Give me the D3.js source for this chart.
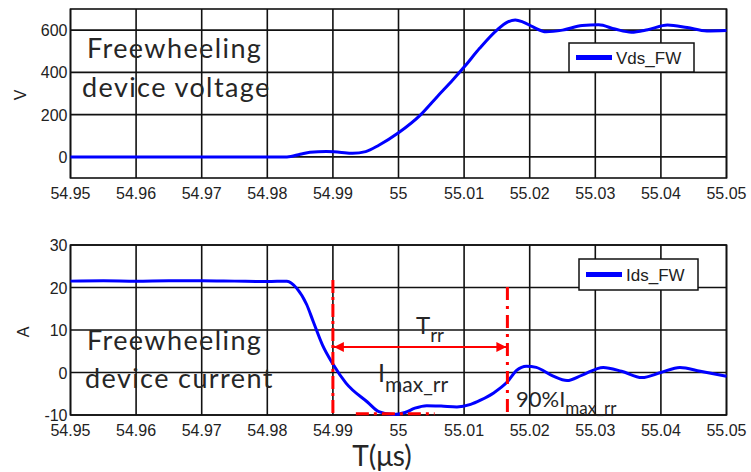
<!DOCTYPE html>
<html lang="en">
<head>
    <meta charset="utf-8">
    <title>Freewheeling device waveforms</title>
    <script src="https://cdn.jsdelivr.net/npm/d3@7"></script>
    <style>
        body { margin: 0; background: #fff; }
        .tick-lab { font-family: "Liberation Sans", Arial, sans-serif; font-size: 16px; fill: #222; }
        .note { font-family: Lato, "Open Sans", sans-serif; fill: #262626; }
    </style>
</head>
<body>
<script>
    // x axis (microseconds)
    var xTicks = [54.95, 54.96, 54.97, 54.98, 54.99, 55, 55.01, 55.02, 55.03, 55.04, 55.05];
    var xTickLabels = ["54.95", "54.96", "54.97", "54.98", "54.99", "55", "55.01", "55.02", "55.03", "55.04", "55.05"];

    // top panel: Vds_FW (V)
    var vTicks = [0, 200, 400, 600];
    var vTime = [54.95, 54.983, 54.985, 54.9865, 54.989, 54.991, 54.993, 54.995, 54.997, 55.0, 55.0034, 55.0059,
        55.0083, 55.01, 55.0124, 55.015, 55.0166, 55.0178, 55.019, 55.0205, 55.0225, 55.025, 55.028, 55.0305,
        55.033, 55.0355, 55.038, 55.041, 55.044, 55.047, 55.05];
    var vVals = [0, 0, 12, 22, 25, 22, 17, 25, 55, 114, 200, 285,
        365, 425, 515, 600, 638, 648, 638, 615, 592, 600, 622, 625,
        605, 590, 602, 624, 612, 596, 598];

    // bottom panel: Ids_FW (A)
    var iTicks = [-10, 0, 10, 20, 30];
    var iTime = [54.95, 54.955, 54.96, 54.965, 54.97, 54.975, 54.98, 54.983, 54.9845, 54.986, 54.987, 54.9884,
        54.99, 54.992, 54.9953, 54.997, 54.9992, 55.001, 55.0025, 55.0043, 55.0065, 55.0089, 55.011, 55.0125,
        55.0145, 55.0166, 55.018, 55.0195, 55.021, 55.0235, 55.0257, 55.028, 55.0312, 55.034, 55.0371, 55.040,
        55.0429, 55.046, 55.05];
    var iVals = [21.5, 21.6, 21.5, 21.6, 21.6, 21.5, 21.4, 21.5, 19.8, 16, 12, 6.5,
        2, -2.5, -7, -9.2, -9.9, -9.4, -8.4, -7.8, -7.9, -8.1, -7.5, -6.5,
        -4.8, -2.2, 0.5, 1.5, 1.2, -0.8, -1.9, -0.6, 1.2, 0.3, -1.2, 0,
        1.2, 0.3, -0.9];

    // reverse recovery markers
    var trrStart = 54.99, trrEnd = 55.0166;
    var imaxLevel = -9.7, imaxFrom = 54.9935, imaxTo = 55.0055;

    var w = 751, h = 472;
    var svg = d3.select("body").append("svg").attr("width", w).attr("height", h);

    var x = d3.scaleLinear().domain([54.95, 55.05]).range([70.5, 726.5]);
    var yV = d3.scaleLinear().domain([-100, 700]).range([178, 9]);
    var yI = d3.scaleLinear().domain([-10, 30]).range([415, 245]);

    function panel(y, yt, topVal, botVal) {
        var g = svg.append("g");
        // grid
        g.selectAll("line.vg").data(xTicks).enter().append("line")
            .attr("x1", d => x(d)).attr("x2", d => x(d))
            .attr("y1", y(topVal)).attr("y2", y(botVal))
            .attr("stroke", "#111").attr("stroke-width", 1.6);
        g.selectAll("line.hg").data(yt).enter().append("line")
            .attr("x1", x(54.95)).attr("x2", x(55.05))
            .attr("y1", d => y(d)).attr("y2", d => y(d))
            .attr("stroke", "#111").attr("stroke-width", 1.6);
        g.append("rect")
            .attr("x", x(54.95)).attr("y", y(topVal))
            .attr("width", x(55.05) - x(54.95)).attr("height", y(botVal) - y(topVal))
            .attr("fill", "none").attr("stroke", "#111").attr("stroke-width", 1.6);
        // x tick labels
        g.selectAll("text.xl").data(xTicks).enter().append("text")
            .attr("class", "tick-lab")
            .attr("x", d => x(d)).attr("y", y(botVal) + 21)
            .attr("text-anchor", "middle")
            .text((d, i) => xTickLabels[i]);
        // y tick labels
        g.selectAll("text.yl").data(yt).enter().append("text")
            .attr("class", "tick-lab")
            .attr("x", x(54.95) - 3).attr("y", d => y(d) + 6)
            .attr("text-anchor", "end")
            .text(d => d);
        return g;
    }

    panel(yV, vTicks, 700, -100);
    panel(yI, iTicks, 30, -10);

    var lineV = d3.line().x((d, i) => x(vTime[i])).y(d => yV(d)).curve(d3.curveMonotoneX);
    var lineI = d3.line().x((d, i) => x(iTime[i])).y(d => yI(d)).curve(d3.curveMonotoneX);

    svg.append("path").datum(vVals).attr("d", lineV)
        .attr("fill", "none").attr("stroke", "#0000ff").attr("stroke-width", 3);
    svg.append("path").datum(iVals).attr("d", lineI)
        .attr("fill", "none").attr("stroke", "#0000ff").attr("stroke-width", 3);

    // axis titles
    svg.append("text").attr("class", "tick-lab")
        .attr("transform", "translate(26," + 95 + ") rotate(-90)")
        .attr("text-anchor", "middle").text("V");
    svg.append("text").attr("class", "tick-lab")
        .attr("transform", "translate(29," + 332 + ") rotate(-90)")
        .attr("text-anchor", "middle").text("A");
    svg.append("text").attr("class", "note")
        .attr("x", 382).attr("y", 466).attr("text-anchor", "middle")
        .style("font-size", "28px").text("T(\u03bcs)");

    // legends
    function legend(x0, y0, bw, bh, label) {
        svg.append("rect").attr("x", x0).attr("y", y0).attr("width", bw).attr("height", bh)
            .attr("fill", "#fff").attr("stroke", "#111").attr("stroke-width", 1.5);
        svg.append("line").attr("x1", x0 + 7).attr("x2", x0 + 43)
            .attr("y1", y0 + bh / 2).attr("y2", y0 + bh / 2)
            .attr("stroke", "#0000ff").attr("stroke-width", 5);
        svg.append("text").attr("class", "tick-lab").style("font-size", "17px")
            .attr("x", x0 + 47).attr("y", y0 + bh / 2 + 6).text(label);
    }
    legend(569, 43, 125, 29, "Vds_FW");
    legend(579, 259, 119, 31, "Ids_FW");

    // panel notes
    function note(x0, y0, txt) {
        svg.append("text").attr("class", "note").attr("x", x0).attr("y", y0)
            .style("font-size", "27px").style("letter-spacing", "1.4px").text(txt);
    }
    note(87, 58, "Freewheeling");
    note(82, 97, "device voltage");
    note(87, 350, "Freewheeling");
    note(85, 388, "device current");

    // red Trr markers
    var red = "#ff0000";
    svg.append("line").attr("x1", x(trrStart)).attr("x2", x(trrStart))
        .attr("y1", 280).attr("y2", yI(-10))
        .attr("stroke", red).attr("stroke-width", 3).attr("stroke-dasharray", "13,4,3,4");
    svg.append("line").attr("x1", x(trrEnd)).attr("x2", x(trrEnd))
        .attr("y1", 287).attr("y2", yI(-10))
        .attr("stroke", red).attr("stroke-width", 3).attr("stroke-dasharray", "13,6,3,6");
    svg.append("line").attr("x1", x(imaxFrom)).attr("x2", x(imaxTo))
        .attr("y1", yI(imaxLevel)).attr("y2", yI(imaxLevel))
        .attr("stroke", red).attr("stroke-width", 3).attr("stroke-dasharray", "13,5,3,5");

    var defs = svg.append("defs");
    defs.append("marker").attr("id", "ah").attr("viewBox", "0 0 10 10")
        .attr("refX", 10).attr("refY", 5).attr("markerWidth", 6).attr("markerHeight", 5)
        .attr("orient", "auto-start-reverse").attr("markerUnits", "strokeWidth")
        .append("path").attr("d", "M0,0 L10,5 L0,10 z").attr("fill", red);
    svg.append("line").attr("x1", x(trrStart) + 1).attr("x2", x(trrEnd) - 1)
        .attr("y1", 347).attr("y2", 347)
        .attr("stroke", red).attr("stroke-width", 2)
        .attr("marker-start", "url(#ah)").attr("marker-end", "url(#ah)");

    // annotation labels
    var t1 = svg.append("text").attr("class", "note").attr("x", 416).attr("y", 334).style("font-size", "24px");
    t1.append("tspan").text("T");
    t1.append("tspan").attr("dy", 8).style("font-size", "19px").text("rr");

    var t2 = svg.append("text").attr("class", "note").attr("x", 378).attr("y", 382).style("font-size", "25px");
    t2.append("tspan").text("I");
    t2.append("tspan").attr("dy", 10).style("font-size", "21px").text("max_rr");

    var t3 = svg.append("text").attr("class", "note").attr("x", 516).attr("y", 407).style("font-size", "22px");
    t3.append("tspan").text("90%I");
    t3.append("tspan").attr("dy", 7).style("font-size", "17px").text("max_rr");
</script>
</body>
</html>
